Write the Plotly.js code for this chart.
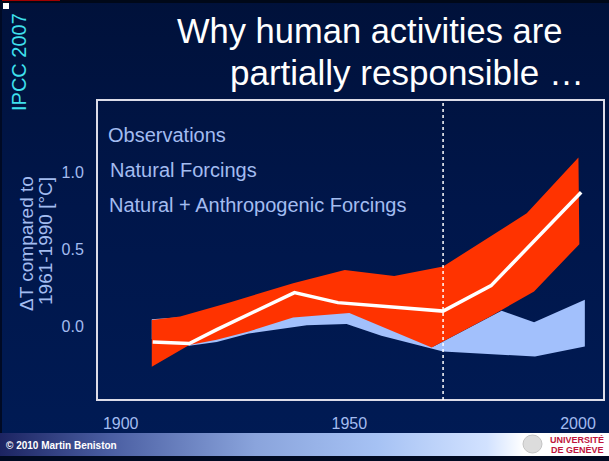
<!DOCTYPE html>
<html>
<head>
<meta charset="utf-8">
<script src="https://cdn.plot.ly/plotly-3.0.1.min.js"></script>
<style>
  html, body { margin: 0; padding: 0; }
  body { width: 609px; height: 461px; overflow: hidden; position: relative;
         background: linear-gradient(to bottom, #00113a 0%, #00164a 45%, #001b55 100%); }
  #topbar { position: absolute; left: 0; top: 0; width: 609px; height: 3px; background: #000818; }
  #redline { position: absolute; left: 0; top: 0; width: 60px; height: 1px; background: #a00000; }
  #sq { position: absolute; left: 3px; top: 3px; width: 6px; height: 6px; background: #ffffff; }
  #leftbar { position: absolute; left: 0; top: 0; width: 2px; height: 461px; background: #000a24; }
  #footer { position: absolute; left: 0; top: 433px; width: 609px; height: 23px;
            background: linear-gradient(to right, #1c2462 0%, #4a5ea2 18%, #8aa4dc 42%, #a6c2f4 62%, #d2e2ff 80%, #ffffff 86%, #ffffff 100%); }
  #bottom { position: absolute; left: 0; top: 456px; width: 609px; height: 5px; background: #000a22; }
  #chart { position: absolute; left: 0; top: 0; width: 609px; height: 461px; }
</style>
</head>
<body>
<div id="topbar"></div><div id="redline"></div><div id="sq"></div><div id="leftbar"></div>
<div id="footer"></div><div id="bottom"></div>
<div id="chart"></div>
<script>
// ---- data ----
const obsYears = [1907, 1915, 1921, 1938, 1947.5, 1970.5, 1981, 2000.7];
const obsTemp  = [-0.10, -0.11, -0.02, 0.22, 0.155, 0.10, 0.265, 0.87];

const anthUpperYears = [1906.8, 1913, 1924, 1937.7, 1949, 1959.8, 1970.5, 1980.8, 1988.8, 2000.1];
const anthUpper      = [0.043, 0.065, 0.158, 0.281, 0.367, 0.328, 0.389, 0.583, 0.734, 1.095];
const anthLowerYears = [1906.8, 1915, 1921, 1928, 1937.7, 1950, 1968, 1980.8, 1990.4, 2000.3];
const anthLower      = [-0.26, -0.12, -0.086, -0.032, 0.058, 0.087, -0.136, 0.065, 0.227, 0.534];

const natUpperYears = [1906.8, 1913, 1924, 1938, 1949, 1960, 1968.4, 1983.3, 1990.4, 2001.5];
const natUpper      = [0.048, 0.06, 0.05, 0.10, 0.12, 0.0, -0.13, 0.102, 0.028, 0.173];
const natLowerYears = [1906.8, 1915, 1921, 1928, 1940.7, 1949.4, 1957, 1970.5, 1990.6, 2001.5];
const natLower      = [-0.08, -0.125, -0.10, -0.045, 0.008, 0.017, -0.06, -0.162, -0.194, -0.13];

const xTicks = [1900, 1950, 2000];
const yTicks = [0.0, 0.5, 1.0];
const yTickText = ['0.0', '0.5', '1.0'];
const periodLineYear = 1970.5;

const legendLabels = ['Observations', 'Natural Forcings', 'Natural + Anthropogenic Forcings'];
const titleLines = ['Why human activities are', 'partially responsible …'];

// ---- helpers ----
const W = 609, H = 461, L = 97, R = 5, T = 100, B = 61;
const pw = W - L - R, ph = H - T - B;
const px = v => (v - L) / pw;
const py = v => (H - B - v) / ph;
const band = (ux, uy, lx, ly) => ({
  x: ux.concat(lx.slice().reverse()),
  y: uy.concat(ly.slice().reverse())
});

const nat = band(natUpperYears, natUpper, natLowerYears, natLower);
const anth = band(anthUpperYears, anthUpper, anthLowerYears, anthLower);

const font = 'Liberation Sans, Arial, Helvetica, sans-serif';
const lightBlue = '#a3bcf0';

const traces = [
  { x: nat.x, y: nat.y, type: 'scatter', mode: 'lines', fill: 'toself',
    fillcolor: '#a2c0fc', line: { width: 0, color: '#a2c0fc' }, hoverinfo: 'skip', showlegend: false },
  { x: anth.x, y: anth.y, type: 'scatter', mode: 'lines', fill: 'toself',
    fillcolor: '#ff3300', line: { width: 0, color: '#ff3300' }, hoverinfo: 'skip', showlegend: false },
  { x: obsYears, y: obsTemp, type: 'scatter', mode: 'lines',
    line: { color: '#ffffff', width: 3.5 }, showlegend: false }
];

const annotations = [
  { text: titleLines[0], xref: 'paper', yref: 'paper', x: px(564), y: py(31), xanchor: 'right', yanchor: 'middle',
    showarrow: false, font: { family: font, size: 34.5, color: '#ffffff' } },
  { text: titleLines[1], xref: 'paper', yref: 'paper', x: px(228), y: py(72), xanchor: 'left', yanchor: 'middle',
    showarrow: false, font: { family: font, size: 35, color: '#ffffff' } },
  { text: 'IPCC 2007', xref: 'paper', yref: 'paper', x: px(19), y: py(62), xanchor: 'center', yanchor: 'middle',
    textangle: -90, showarrow: false, font: { family: font, size: 20, color: '#3fe0ee' } },
  { text: 'ΔT compared to', xref: 'paper', yref: 'paper', x: px(26), y: py(244), xanchor: 'center', yanchor: 'middle',
    textangle: -90, showarrow: false, font: { family: font, size: 19, color: lightBlue } },
  { text: '1961-1990 [°C]', xref: 'paper', yref: 'paper', x: px(45), y: py(241), xanchor: 'center', yanchor: 'middle',
    textangle: -90, showarrow: false, font: { family: font, size: 19, color: lightBlue } },
  { text: legendLabels[0], xref: 'paper', yref: 'paper', x: px(106), y: py(135), xanchor: 'left', yanchor: 'middle',
    showarrow: false, font: { family: font, size: 20, color: lightBlue } },
  { text: legendLabels[1], xref: 'paper', yref: 'paper', x: px(108), y: py(170), xanchor: 'left', yanchor: 'middle',
    showarrow: false, font: { family: font, size: 20, color: lightBlue } },
  { text: legendLabels[2], xref: 'paper', yref: 'paper', x: px(107), y: py(205), xanchor: 'left', yanchor: 'middle',
    showarrow: false, font: { family: font, size: 20, color: lightBlue } },
  { text: '<b>© 2010 Martin Beniston</b>', xref: 'paper', yref: 'paper', x: px(4), y: py(445), xanchor: 'left', yanchor: 'middle',
    showarrow: false, font: { family: font, size: 10, color: '#ffffff' } },
  { text: '<b>UNIVERSITÉ</b>', xref: 'paper', yref: 'paper', x: px(606), y: py(440), xanchor: 'right', yanchor: 'middle',
    showarrow: false, font: { family: font, size: 9, color: '#c0143c' } },
  { text: '<b>DE GENÈVE</b>', xref: 'paper', yref: 'paper', x: px(606), y: py(450), xanchor: 'right', yanchor: 'middle',
    showarrow: false, font: { family: font, size: 9, color: '#c0143c' } }
];

const shapes = [
  { type: 'rect', xref: 'paper', yref: 'paper', x0: 0, x1: 1, y0: 0, y1: 1,
    line: { color: '#dcdce8', width: 2 }, fillcolor: 'rgba(0,0,0,0)' },
  { type: 'line', xref: 'x', yref: 'paper', x0: periodLineYear, x1: periodLineYear, y0: 0, y1: 1,
    line: { color: '#ffffff', width: 1.5, dash: 'dot' } },
  { type: 'circle', xref: 'paper', yref: 'paper', x0: px(523), x1: px(542), y0: py(453), y1: py(435),
    line: { color: '#c4c4c4', width: 1 }, fillcolor: '#dcdcdc' }
];

const layout = {
  width: W, height: H,
  margin: { l: L, r: R, t: T, b: B, pad: 0 },
  paper_bgcolor: 'rgba(0,0,0,0)', plot_bgcolor: 'rgba(0,0,0,0)',
  showlegend: false,
  xaxis: {
    range: [1894.82, 2005.69], tickvals: xTicks, ticktext: xTicks.map(String),
    showgrid: false, zeroline: false, showline: false,
    ticks: 'outside', ticklen: 9, tickcolor: 'rgba(0,0,0,0)',
    tickfont: { family: font, size: 16, color: lightBlue }
  },
  yaxis: {
    range: [-0.476, 1.468], tickvals: yTicks, ticktext: yTickText,
    showgrid: false, zeroline: false, showline: false,
    ticks: 'outside', ticklen: 9, tickcolor: 'rgba(0,0,0,0)',
    tickfont: { family: font, size: 16, color: lightBlue }
  },
  annotations: annotations,
  shapes: shapes
};

Plotly.newPlot('chart', traces, layout, { displayModeBar: false, staticPlot: true });
</script>
</body>
</html>
